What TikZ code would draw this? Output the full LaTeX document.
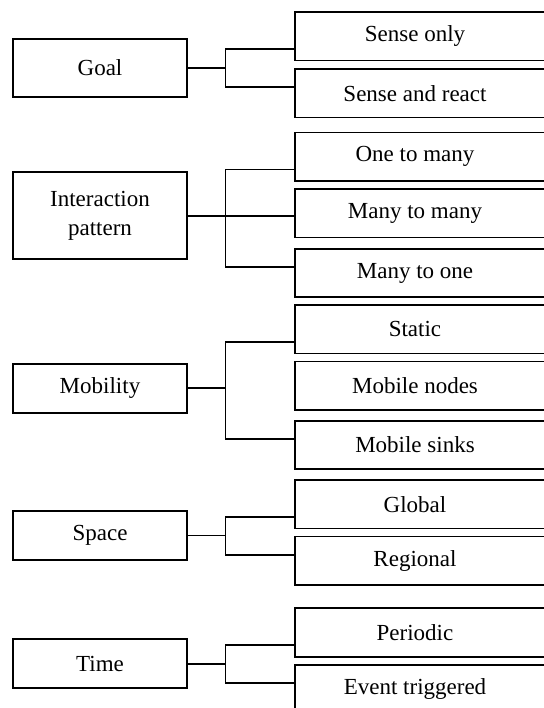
\documentclass[tikz,border=0pt]{standalone}
\usepackage{fontspec}
\setmainfont{Liberation Serif}
\usetikzlibrary{positioning,calc}

\begin{document}
\begin{tikzpicture}[
    x=0.5pt,y=-0.5pt,
    font=\fontsize{11.5}{14.5}\selectfont,
    cat/.style={draw,line width=0.9pt,align=center,minimum width=87pt,minimum height=24.5pt,inner sep=0pt},
    leaf/.style={align=center,minimum width=120pt,minimum height=24.25pt,inner sep=0pt,outer sep=0pt},
    link/.style={line width=0.9pt}
  ]
    \clip (0,0) rectangle (544,708);

    \node[cat,minimum height=28.7pt] (goal) at (100,68) {Goal};
    \node[cat,minimum height=43.5pt] (inter) at (100,215.8) {Interaction\\pattern};
    \node[cat] (mob) at (100,388.3) {Mobility};
    \node[cat] (space) at (100,535.5) {Space};
    \node[cat] (time) at (100,663.7) {Time};

    \node[leaf] (sonly) at (415,36.3) {Sense only};
    \node[leaf] (sreact) at (415,93.2) {Sense and react};
    \node[leaf] (o2m) at (415,156.7) {One to many};
    \node[leaf] (m2m) at (415,213.2) {Many to many};
    \node[leaf] (m2o) at (415,273) {Many to one};
    \node[leaf] (static) at (415,329.2) {Static};
    \node[leaf] (mnodes) at (415,385.8) {Mobile nodes};
    \node[leaf] (msinks) at (415,445) {Mobile sinks};
    \node[leaf] (global) at (415,504.2) {Global};
    \node[leaf] (regional) at (415,560.8) {Regional};
    \node[leaf] (periodic) at (415,632.5) {Periodic};
    \node[leaf] (event) at (415,689.2) {Event triggered};

    \foreach \n in {sonly,sreact,o2m,m2m,m2o,static,mnodes,msinks,global,regional,periodic,event}
      \draw[link] ([xshift=30pt]\n.north east) -| (\n.south west) -- ([xshift=30pt]\n.south east);

    \foreach \p/\a/\b in {goal/sonly/sreact,inter/o2m/m2o,mob/static/msinks,space/global/regional,time/periodic/event}{
      \draw[link] (\p.east) -- ++(37.5,0) coordinate (j);
      \draw[link] ([yshift=-6.4pt]\a.west) -| (j) |- ([yshift=3pt]\b.west);
    }
    \draw[link] (inter.east) -- (inter.east -| m2m.west);
\end{tikzpicture}
\end{document}
